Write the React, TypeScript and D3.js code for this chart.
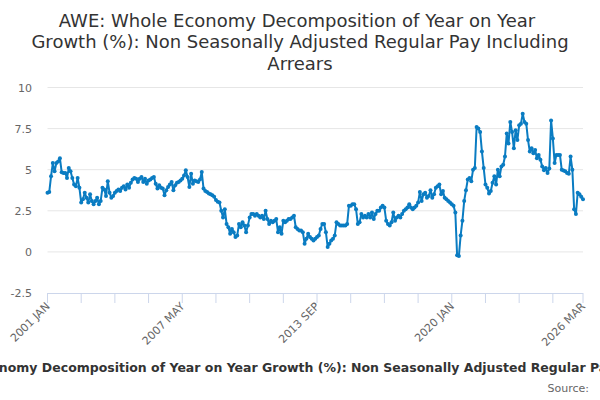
import React from "react";
import * as d3 from "d3";

const title = "AWE: Whole Economy Decomposition of Year on Year Growth (%): Non Seasonally Adjusted Regular Pay Including Arrears";
const titleLines = [
  "AWE: Whole Economy Decomposition of Year on Year",
  "Growth (%): Non Seasonally Adjusted Regular Pay Including",
  "Arrears",
];
const monthNames = ["JAN", "FEB", "MAR", "APR", "MAY", "JUN", "JUL", "AUG", "SEP", "OCT", "NOV", "DEC"];
const startYear = 2001;

const v2001 = [3.6, 3.65, 4.6, 5.4, 4.9, 5.4, 5.5, 5.7, 4.85, 4.8, 4.8, 4.5];
const v2002 = [5.1, 4.9, 4.5, 4.1, 4.0, 4.5, 3.9, 3.0, 3.2, 3.6, 3.3, 3.0];
const v2003 = [3.5, 3.1, 2.9, 3.1, 3.3, 2.9, 3.1, 3.9, 3.8, 3.4, 4.3, 3.6];
const v2004 = [3.3, 3.4, 3.6, 3.7, 3.8, 3.7, 3.9, 4.0, 3.8, 4.1, 3.9, 4.2];
const v2005 = [4.4, 4.5, 4.45, 4.25, 4.45, 4.55, 4.25, 4.45, 4.15, 4.35, 4.4, 4.5];
const v2006 = [4.55, 4.15, 3.85, 4.05, 3.9, 3.85, 3.45, 3.75, 3.95, 4.1, 4.25, 3.75];
const v2007 = [4.05, 4.2, 4.25, 4.35, 4.45, 4.65, 4.96, 4.55, 3.95, 4.75, 4.15, 4.35];
const v2008 = [4.3, 4.25, 4.4, 4.86, 3.85, 3.7, 3.65, 3.55, 3.5, 3.45, 3.35, 3.15];
const v2009 = [3.05, 3.0, 2.5, 2.1, 2.6, 1.7, 1.5, 1.1, 1.4, 1.2, 0.9, 1.0];
const v2010 = [1.7, 1.5, 1.8, 1.6, 1.2, 1.6, 2.1, 2.3, 2.3, 2.2, 2.3, 2.2];
const v2011 = [2.1, 2.2, 2.0, 2.5, 2.0, 1.7, 1.9, 1.8, 1.9, 2.0, 1.2, 1.5];
const v2012 = [1.1, 1.9, 1.8, 1.9, 2.0, 2.0, 2.1, 2.2, 1.5, 1.4, 1.3, 1.3];
const v2013 = [1.2, 0.5, 0.8, 1.1, 0.9, 0.8, 0.7, 0.8, 0.9, 1.0, 1.4, 1.7];
const v2014 = [1.7, 1.2, 0.3, 0.5, 0.7, 0.8, 1.0, 1.8, 1.7, 1.6, 1.6, 1.6];
const v2015 = [1.6, 1.7, 2.8, 2.8, 2.9, 2.9, 2.6, 1.7, 1.8, 2.3, 2.1, 2.2];
const v2016 = [2.1, 2.3, 2.1, 2.4, 2.0, 2.3, 2.5, 2.5, 2.7, 2.8, 2.7, 1.9];
const v2017 = [1.7, 1.6, 1.8, 2.4, 1.9, 2.1, 2.2, 2.1, 2.3, 2.5, 2.6, 2.7];
const v2018 = [2.9, 2.7, 2.6, 2.7, 2.8, 3.0, 3.65, 3.1, 3.5, 3.6, 3.3, 3.4];
const v2019 = [3.75, 3.3, 3.5, 3.9, 4.0, 4.1, 3.5, 3.7, 3.3, 3.2, 3.1, 3.0];
const v2020 = [2.9, 2.8, 2.4, -0.2, -0.25, 1.0, 1.9, 3.1, 3.75, 4.4, 4.5, 4.3];
const v2021 = [5.0, 5.1, 7.6, 7.5, 7.3, 6.1, 5.1, 4.1, 3.9, 3.55, 3.7, 4.2];
const v2022 = [4.6, 4.1, 5.0, 4.6, 5.2, 5.3, 5.8, 7.2, 6.6, 7.9, 7.3, 6.3];
const v2023 = [7.4, 6.8, 7.7, 7.8, 8.4, 7.9, 7.8, 6.8, 6.1, 6.3, 6.0, 6.2];
const v2024 = [5.7, 5.9, 5.6, 5.2, 4.97, 5.1, 4.8, 5.07, 8.0, 6.9, 5.4, 5.9];
const v2025 = [5.9, 5.9, 5.0, 4.95, 4.9, 4.8, 4.75, 5.8, 5.0, 2.6, 2.3, 3.6];
const v2026 = [3.5, 3.35, 3.2];

const values: number[] = [
  ...v2001, ...v2002, ...v2003, ...v2004, ...v2005, ...v2006, ...v2007, ...v2008,
  ...v2009, ...v2010, ...v2011, ...v2012, ...v2013, ...v2014, ...v2015, ...v2016,
  ...v2017, ...v2018, ...v2019, ...v2020, ...v2021, ...v2022, ...v2023, ...v2024,
  ...v2025, ...v2026,
];
const categories = values.map((_, i) => `${startYear + Math.floor(i / 12)} ${monthNames[i % 12]}`);
const yTicks = [-2.5, 0, 2.5, 5, 7.5, 10];
const tickStep = 19;
const labelStep = 76;

const W = 600;
const H = 400;
const left = 47.5;
const right = 583;
const top = 87.5;
const bottom = 293;
const color = "#0a7cc2";
const font = "'DejaVu Sans', sans-serif";

export default function App() {
  const x = d3.scaleLinear().domain([0, categories.length - 1]).range([left, right]);
  const y = d3.scaleLinear().domain([-2.5, 10]).range([bottom, top]);
  const line = d3.line<number>().x((_, i) => x(i)).y((d) => y(d));
  const tickIdx: number[] = [];
  for (let i = 0; i < categories.length; i += tickStep) tickIdx.push(i);
  if (tickIdx[tickIdx.length - 1] !== categories.length - 1) tickIdx.push(categories.length - 1);
  const labelIdx: number[] = [];
  for (let i = 0; i < categories.length - labelStep / 2; i += labelStep) labelIdx.push(i);
  labelIdx.push(categories.length - 1);

  return (
    <svg width={W} height={H} style={{ position: "absolute", left: 0, top: 0, fontFamily: font }}>
      <rect width={W} height={H} fill="#fff" />
      {titleLines.map((t, i) => (
        <text key={i} x={i === 0 ? 297 : 300} y={26.5 + i * 21.7} textAnchor="middle" fontSize={18} fill="#333">
          {t}
        </text>
      ))}
      {yTicks.map((t) => (
        <g key={t}>
          {t !== -2.5 && <line x1={left} x2={right} y1={y(t)} y2={y(t)} stroke="#e6e6e6" strokeWidth={1} />}
          <text x={32} y={y(t) + 4} textAnchor="end" fontSize={11} fill="#666">
            {t}
          </text>
        </g>
      ))}
      <line x1={left} x2={right} y1={bottom + 0.5} y2={bottom + 0.5} stroke="#ccd6eb" strokeWidth={1} />
      {tickIdx.map((i) => (
        <line key={i} x1={x(i)} x2={x(i)} y1={bottom} y2={bottom + 10} stroke="#ccd6eb" strokeWidth={1} />
      ))}
      {labelIdx.map((i) => (
        <text
          key={i}
          transform={`translate(${x(i) + 3},${bottom + 14}) rotate(-45)`}
          textAnchor="end"
          fontSize={11}
          fill="#666"
        >
          {categories[i]}
        </text>
      ))}
      <path d={line(values) || ""} fill="none" stroke={color} strokeWidth={2} strokeLinejoin="round" />
      {values.map((v, i) => (
        <circle key={i} cx={x(i)} cy={y(v)} r={2} fill={color} />
      ))}
      <text x={(left + right) / 2 - 2} y={372} textAnchor="middle" fontSize={12.5} fontWeight="bold" fill="#333">
        {title}
      </text>
      <text x={589} y={392} textAnchor="end" fontSize={11} fill="#666">
        Source:
      </text>
    </svg>
  );
}
